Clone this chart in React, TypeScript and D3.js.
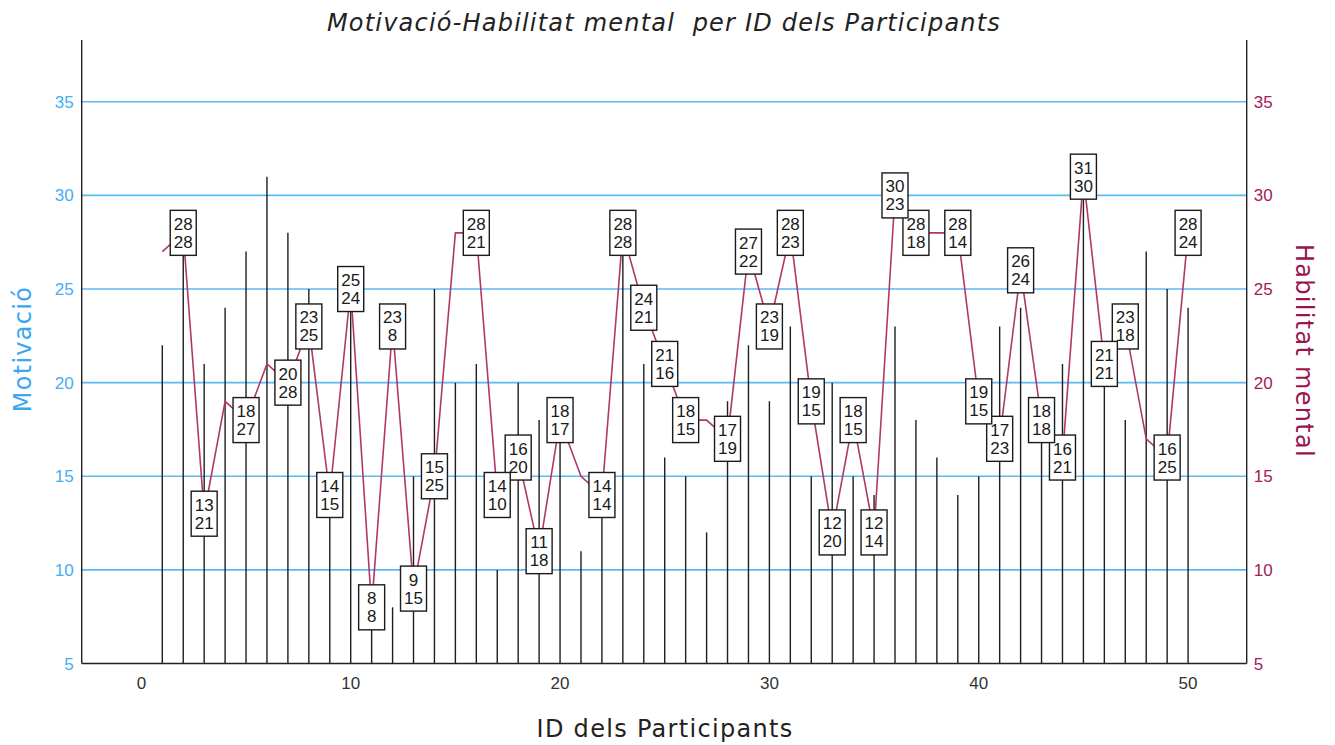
import React, { useRef, useEffect } from "react"
import * as d3 from "d3"

// ID dels participants
const ids = [
  1, 2, 3, 4, 5, 6, 7, 8, 9, 10, 11, 12, 13, 14, 15, 16, 17, 18, 19, 20, 21, 22, 23, 24, 25,
  26, 27, 28, 29, 30, 31, 32, 33, 34, 35, 36, 37, 38, 39, 40, 41, 42, 43, 44, 45, 46, 47, 48, 49, 50,
]

// Motivació (barres, eix esquerre)
const motivacio = [
  22, 28, 21, 24, 27, 31, 28, 25, 15, 24, 8, 8, 15, 25, 20, 21, 10, 20, 18, 17, 11, 14, 28, 21, 16,
  15, 12, 19, 22, 19, 23, 15, 20, 15, 14, 23, 18, 16, 14, 15, 23, 24, 18, 21, 30, 21, 18, 27, 25, 24,
]

// Habilitat mental (línia, eix dret)
const habilitat = [
  27, 28, 13, 19, 18, 21, 20, 23, 14, 25, 8, 23, 9, 15, 28, 28, 14, 16, 11, 18, 15, 14, 28, 24, 21,
  18, 18, 17, 27, 23, 28, 19, 12, 18, 12, 30, 28, 28, 28, 19, 17, 26, 18, 16, 31, 21, 23, 17, 16, 28,
]

// punts sense etiqueta (SPSS les amaga per solapament)
const sinEtiqueta = [1, 4, 6, 15, 21, 27, 38, 48]

const yTicks = [5, 10, 15, 20, 25, 30, 35]
const xTicks = [0, 10, 20, 30, 40, 50]

const W = 1335
const H = 745

const App: React.FC = () => {
  const svgRef = useRef<SVGSVGElement | null>(null)

  useEffect(() => {
    if (!svgRef.current) return
    const svg = d3.select(svgRef.current)
    svg.selectAll("*").remove()

    const left = 81.7
    const right = 1246.7
    const top = 40
    const bottom = 663.5

    const x = d3.scaleLinear().domain([-2.85, 52.8]).range([left, right])
    const y = d3.scaleLinear().domain([5, 38.3]).range([bottom, top])

    const blue = "#45aef3"
    const crimson = "#a3205a"

    // gridlines
    svg
      .append("g")
      .selectAll("line")
      .data(yTicks.filter((t) => t > 5))
      .enter()
      .append("line")
      .attr("x1", left)
      .attr("x2", right)
      .attr("y1", (d) => y(d))
      .attr("y2", (d) => y(d))
      .attr("stroke", "#58b9f6")
      .attr("stroke-width", 1.6)

    // bars
    svg
      .append("g")
      .selectAll("line")
      .data(ids)
      .enter()
      .append("line")
      .attr("x1", (d) => x(d))
      .attr("x2", (d) => x(d))
      .attr("y1", y(5))
      .attr("y2", (_, i) => y(motivacio[i]))
      .attr("stroke", "#1e1e1e")
      .attr("stroke-width", 1.4)

    // line
    const line = d3
      .line<number>()
      .x((d) => x(d))
      .y((_, i) => y(habilitat[i]))
    svg
      .append("path")
      .datum(ids)
      .attr("d", line)
      .attr("fill", "none")
      .attr("stroke", "#b03868")
      .attr("stroke-width", 1.6)

    // axes lines
    const axes = svg.append("g").attr("stroke", "#222").attr("stroke-width", 1.4)
    axes.append("line").attr("x1", left).attr("x2", left).attr("y1", top).attr("y2", bottom)
    axes.append("line").attr("x1", right).attr("x2", right).attr("y1", top).attr("y2", bottom)
    axes.append("line").attr("x1", left).attr("x2", right).attr("y1", bottom).attr("y2", bottom)

    // tick labels
    const tickFont = "'Liberation Sans', Arial, sans-serif"
    svg
      .append("g")
      .selectAll("text")
      .data(yTicks)
      .enter()
      .append("text")
      .attr("x", left - 8)
      .attr("y", (d) => y(d) + 6)
      .attr("text-anchor", "end")
      .attr("font-family", tickFont)
      .attr("font-size", 17)
      .attr("fill", blue)
      .text((d) => d)

    svg
      .append("g")
      .selectAll("text")
      .data(yTicks)
      .enter()
      .append("text")
      .attr("x", right + 7)
      .attr("y", (d) => y(d) + 6)
      .attr("text-anchor", "start")
      .attr("font-family", tickFont)
      .attr("font-size", 17)
      .attr("fill", crimson)
      .text((d) => d)

    svg
      .append("g")
      .selectAll("text")
      .data(xTicks)
      .enter()
      .append("text")
      .attr("x", (d) => x(d))
      .attr("y", bottom + 25)
      .attr("text-anchor", "middle")
      .attr("font-family", tickFont)
      .attr("font-size", 17)
      .attr("fill", "#333")
      .text((d) => d)

    // point labels (reverse order so lower IDs sit on top)
    const labelled = ids
      .map((id, i) => ({ id, h: habilitat[i], m: motivacio[i] }))
      .filter((d) => !sinEtiqueta.includes(d.id))
      .reverse()

    const lab = svg
      .append("g")
      .selectAll("g")
      .data(labelled)
      .enter()
      .append("g")
      .attr("transform", (d) => `translate(${x(d.id)},${y(d.h)})`)

    lab
      .append("rect")
      .attr("x", -13)
      .attr("y", -22.5)
      .attr("width", 26)
      .attr("height", 45)
      .attr("fill", "#fff")
      .attr("stroke", "#1a1a1a")
      .attr("stroke-width", 1.4)

    lab
      .append("text")
      .attr("y", -3)
      .attr("text-anchor", "middle")
      .attr("font-family", tickFont)
      .attr("font-size", 17)
      .attr("fill", "#1a1a1a")
      .text((d) => d.h)

    lab
      .append("text")
      .attr("y", 15)
      .attr("text-anchor", "middle")
      .attr("font-family", tickFont)
      .attr("font-size", 17)
      .attr("fill", "#1a1a1a")
      .text((d) => d.m)

    // titles
    const titleFont = "'DejaVu Sans', Verdana, sans-serif"
    svg
      .append("text")
      .attr("x", 664)
      .attr("y", 31)
      .attr("text-anchor", "middle")
      .attr("font-family", titleFont)
      .attr("font-style", "italic")
      .attr("font-size", 24)
      .attr("letter-spacing", 1.2)
      .attr("fill", "#222")
      .style("white-space", "pre")
      .text("Motivació-Habilitat mental  per ID dels Participants")

    svg
      .append("text")
      .attr("x", 665)
      .attr("y", 737)
      .attr("text-anchor", "middle")
      .attr("font-family", titleFont)
      .attr("font-size", 24)
      .attr("letter-spacing", 1.3)
      .attr("fill", "#222")
      .text("ID dels Participants")

    svg
      .append("text")
      .attr("transform", `translate(31,349) rotate(-90)`)
      .attr("text-anchor", "middle")
      .attr("font-family", titleFont)
      .attr("font-size", 24)
      .attr("letter-spacing", 1.3)
      .attr("fill", "#3aa6ef")
      .text("Motivació")

    svg
      .append("text")
      .attr("transform", `translate(1296,351) rotate(90)`)
      .attr("text-anchor", "middle")
      .attr("font-family", titleFont)
      .attr("font-size", 24)
      .attr("letter-spacing", 1.3)
      .attr("fill", "#9b1450")
      .text("Habilitat mental")
  }, [])

  return (
    <svg
      ref={svgRef}
      width={W}
      height={H}
      style={{ position: "absolute", left: 0, top: 0, background: "#fff" }}
    ></svg>
  )
}

export default App
